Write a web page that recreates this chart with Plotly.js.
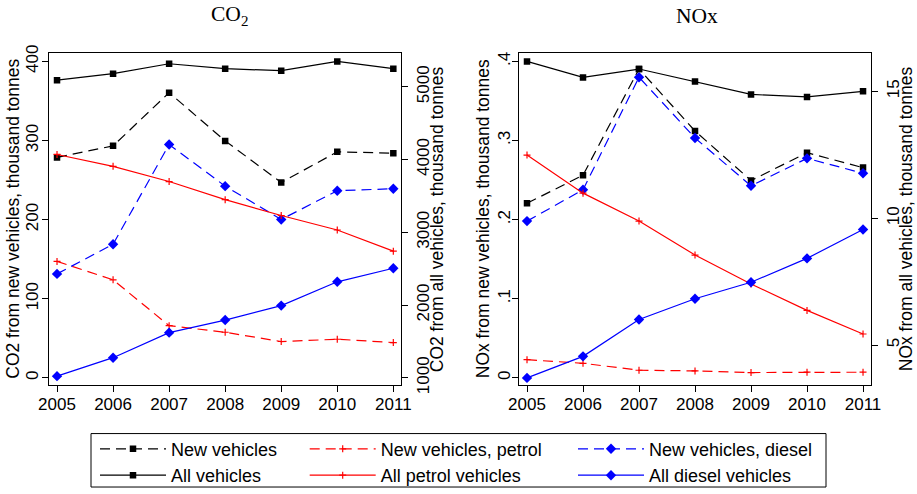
<!DOCTYPE html>
<html>
<head>
<meta charset="utf-8">
<script src="https://cdn.plot.ly/plotly-3.0.1.min.js"></script>
<style>html,body{margin:0;padding:0;background:#fff;} #chart{width:917px;height:494px;}</style>
</head>
<body>
<div id="chart"></div>
<script>
var years = [2005, 2006, 2007, 2008, 2009, 2010, 2011];

var co2New       = [278.6, 293.2, 360.4, 299.5, 246.9, 285.7, 284.0];
var co2NewPetrol = [147.2, 123.9, 65.9, 57.6, 45.9, 48.8, 44.6];
var co2NewDiesel = [131.4, 168.9, 294.9, 242.3, 200.2, 236.5, 239.0];
var co2All       = [5091, 5181, 5317, 5249, 5222, 5349, 5249];
var co2AllPetrol = [4070, 3907, 3698, 3449, 3231, 3032, 2741];
var co2AllDiesel = [1023, 1277, 1621, 1794, 1993, 2320, 2506];

var noxNew       = [0.2206, 0.2561, 0.3904, 0.3120, 0.2494, 0.2845, 0.2657];
var noxNewPetrol = [0.0229, 0.0184, 0.0096, 0.0088, 0.0067, 0.0071, 0.0071];
var noxNewDiesel = [0.1981, 0.2377, 0.3800, 0.3032, 0.2427, 0.2774, 0.2586];
var noxAll       = [16.18, 15.55, 15.88, 15.39, 14.88, 14.78, 15.00];
var noxAllPetrol = [12.49, 10.99, 9.89, 8.55, 7.41, 6.37, 5.44];
var noxAllDiesel = [3.71, 4.56, 6.01, 6.83, 7.48, 8.42, 9.56];

var co2NewTicks = [0, 100, 200, 300, 400];
var co2AllTicks = [1000, 2000, 3000, 4000, 5000];
var noxNewTicks = [0, 0.1, 0.2, 0.3, 0.4];
var noxNewTickText = ['0', '.1', '.2', '.3', '.4'];
var noxAllTicks = [5, 10, 15];

var seriesNames = ['New vehicles', 'New vehicles, petrol', 'New vehicles, diesel',
                   'All vehicles', 'All petrol vehicles', 'All diesel vehicles'];

var W = 917, H = 494;
function px(x) { return x / W; }
function py(y) { return 1 - y / H; }

var BLACK = '#000000', RED = '#ff0000', BLUE = '#0000ff';
var DASH = '10px,6px';
var LW = 1.2;

function styleFor(i) {
  var dashed = i < 3;
  var kind = i % 3;
  var color = kind === 0 ? BLACK : (kind === 1 ? RED : BLUE);
  var marker;
  if (kind === 0) marker = {symbol: 'square', size: 6.5, color: color};
  else if (kind === 1) marker = {symbol: 'cross-thin', size: 5, color: color, line: {color: color, width: 1.2}};
  else marker = {symbol: 'diamond', size: 8, color: color};
  return {line: {color: color, width: LW, dash: dashed ? DASH : 'solid'}, marker: marker};
}

var legendIds = ['legend', 'legend2', 'legend3'];

function mk(i, yvals, xa, ya, showLeg) {
  var s = styleFor(i);
  return {
    x: years, y: yvals, xaxis: xa, yaxis: ya,
    type: 'scatter', mode: 'lines+markers',
    name: seriesNames[i],
    line: s.line, marker: s.marker,
    showlegend: showLeg,
    legend: legendIds[i % 3],
    hoverinfo: 'x+y'
  };
}

var co2Data = [co2New, co2NewPetrol, co2NewDiesel, co2All, co2AllPetrol, co2AllDiesel];
var noxData = [noxNew, noxNewPetrol, noxNewDiesel, noxAll, noxAllPetrol, noxAllDiesel];

var traces = [];
for (var i = 0; i < 6; i++) {
  traces.push(mk(i, co2Data[i], 'x', i < 3 ? 'y' : 'y2', true));
}
for (var j = 0; j < 6; j++) {
  traces.push(mk(j, noxData[j], 'x2', j < 3 ? 'y3' : 'y4', false));
}

var FONT = 'Liberation Sans, Arial, Helvetica, sans-serif';
var tickFont = {family: FONT, size: 17, color: '#000'};
var yDom = [py(389.3), py(54)];

function xAxis(dom, anchor) {
  return {
    domain: dom, anchor: anchor, range: [2004.857, 2011.137],
    tickmode: 'array', tickvals: years, ticktext: years.map(String),
    ticks: 'outside', ticklen: 6, tickwidth: 1, tickcolor: '#000',
    showline: true, linecolor: '#000', linewidth: 1, mirror: true,
    showgrid: false, zeroline: false, tickfont: tickFont, tickangle: 0,
    ticklabelstandoff: -3, fixedrange: true
  };
}
function yAxis(opts) {
  var a = {
    domain: yDom, ticks: 'outside', ticklen: 6, tickwidth: 1, tickcolor: '#000',
    showline: true, linecolor: '#000', linewidth: 1,
    showgrid: false, zeroline: false, tickfont: tickFont, tickangle: -90,
    tickmode: 'array', fixedrange: true
  };
  for (var k in opts) a[k] = opts[k];
  return a;
}

var legendBase = {
  orientation: 'v', xanchor: 'left', yanchor: 'top',
  bgcolor: 'rgba(0,0,0,0)', borderwidth: 0,
  font: {family: FONT, size: 18, color: '#000'},
  itemwidth: 66, tracegroupgap: 0, itemclick: false, itemdoubleclick: false
};
function leg(xpix) {
  var l = {};
  for (var k in legendBase) l[k] = legendBase[k];
  l.x = px(xpix); l.y = py(435);
  return l;
}

var titleFont = {family: FONT, size: 17.5, color: '#000'};
function vTitle(text, xpix) {
  return {text: text, xref: 'paper', yref: 'paper', x: px(xpix), y: py(221.5),
          xanchor: 'center', yanchor: 'middle', textangle: -90, showarrow: false, font: titleFont};
}
var serif = {family: 'Liberation Serif, Times New Roman, serif', size: 21.5, color: '#000'};

var layout = {
  width: W, height: H,
  margin: {l: 0, r: 0, t: 0, b: 0},
  paper_bgcolor: '#fff', plot_bgcolor: '#fff',
  showlegend: true,
  xaxis: xAxis([px(49), px(401)], 'y'),
  xaxis2: xAxis([px(519), px(870.7)], 'y3'),
  yaxis: yAxis({anchor: 'x', side: 'left', range: [-9.5, 410], tickvals: co2NewTicks, ticktext: co2NewTicks.map(String), ticklabelstandoff: -3}),
  yaxis2: yAxis({anchor: 'x', side: 'right', overlaying: 'y', range: [896.6, 5458.5], tickvals: co2AllTicks, ticktext: co2AllTicks.map(String), ticklabelstandoff: 1}),
  yaxis3: yAxis({anchor: 'x2', side: 'left', range: [-0.0095, 0.410], tickvals: noxNewTicks, ticktext: noxNewTickText, ticklabelstandoff: -5}),
  yaxis4: yAxis({anchor: 'x2', side: 'right', overlaying: 'y3', range: [3.417, 16.494], tickvals: noxAllTicks, ticktext: noxAllTicks.map(String), ticklabelstandoff: 1}),
  legend: leg(95),
  legend2: leg(304.7),
  legend3: leg(573),
  annotations: [
    {text: 'CO<sub>2</sub>', xref: 'paper', yref: 'paper', x: px(229), y: py(16), xanchor: 'center', yanchor: 'middle', showarrow: false, font: serif},
    {text: 'NOx', xref: 'paper', yref: 'paper', x: px(697), y: py(16), xanchor: 'center', yanchor: 'middle', showarrow: false, font: serif},
    vTitle('CO2 from new vehicles, thousand tonnes', 13.5),
    vTitle('CO2 from all vehicles, thousand tonnes', 437),
    vTitle('NOx from new vehicles, thousand tonnes', 483),
    vTitle('NOx from all vehicles, thousand tonnes', 906)
  ],
  shapes: [
    {type: 'rect', xref: 'paper', yref: 'paper', x0: px(91), x1: px(826), y0: py(492), y1: py(438),
     line: {color: '#000', width: 1}, fillcolor: 'rgba(0,0,0,0)'}
  ]
};

Plotly.newPlot('chart', traces, layout, {displayModeBar: false, staticPlot: true});
</script>
</body>
</html>
